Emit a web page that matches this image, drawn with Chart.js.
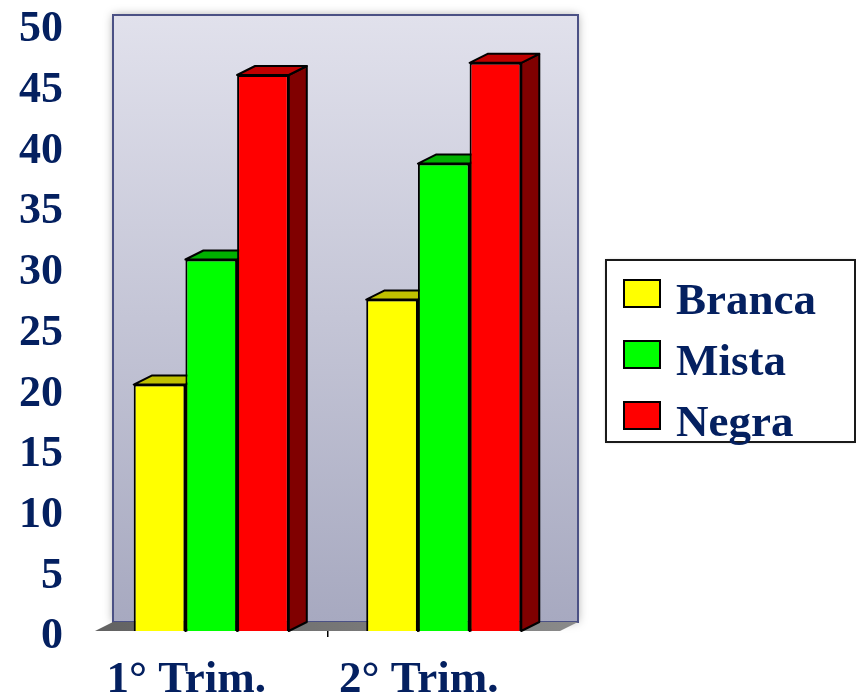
<!DOCTYPE html>
<html>
<head>
<meta charset="utf-8">
<script src="https://cdn.jsdelivr.net/npm/chart.js@4"></script>
<style>
html,body{margin:0;padding:0;background:#fff;}
#c{display:block;}
</style>
</head>
<body>
<canvas id="c" width="856" height="697"></canvas>
<script>
const categories = ['1\u00B0 Trim.', '2\u00B0 Trim.'];
const seriesNames = ['Branca', 'Mista', 'Negra'];
const branca = [20.3, 27.3];
const mista = [30.6, 38.5];
const negra = [45.8, 46.8];
const yTicks = { min: 0, max: 50, step: 5 };

const frontColors = ['#FFFF00', '#00FF00', '#FF0000'];
const topColors = ['#C0C000', '#00B000', '#C00000'];
const sideColors = ['#808000', '#008000', '#800000'];
const TXT = '#042060';
const FONT = "'Liberation Serif', 'Times New Roman', serif";
const DX = 18, DY = -9;

const threeD = {
  id: 'threeD',
  beforeDatasetsDraw(chart) {
    const ctx = chart.ctx, a = chart.chartArea;
    ctx.save();
    const wl = a.left + DX, wt = a.top + DY, wr = a.right + DX, wb = a.bottom + DY;
    ctx.shadowColor = 'rgba(0,0,0,0.35)';
    ctx.shadowBlur = 9;
    const g = ctx.createLinearGradient(0, wt, 0, wb);
    g.addColorStop(0, '#E1E1EC');
    g.addColorStop(1, '#A7A9C0');
    ctx.fillStyle = g;
    ctx.fillRect(wl, wt, wr - wl, wb - wt);
    ctx.shadowColor = 'transparent';
    ctx.shadowBlur = 0;
    ctx.strokeStyle = '#4B5185';
    ctx.lineWidth = 2;
    ctx.strokeRect(wl, wt, wr - wl, wb - wt);
    const fg = ctx.createLinearGradient(a.left, 0, a.right + DX, 0);
    fg.addColorStop(0, '#626262');
    fg.addColorStop(1, '#8A8A8A');
    ctx.fillStyle = fg;
    ctx.beginPath();
    ctx.moveTo(a.left, a.bottom);
    ctx.lineTo(a.right, a.bottom);
    ctx.lineTo(a.right + DX, a.bottom + DY);
    ctx.lineTo(a.left + DX, a.bottom + DY);
    ctx.closePath();
    ctx.fill();
    ctx.lineWidth = 2;
    ctx.strokeStyle = '#000';
    ctx.lineJoin = 'round';
    const n = chart.data.labels.length;
    for (let j = 0; j < n; j++) {
      chart.data.datasets.forEach((ds, i) => {
        const el = chart.getDatasetMeta(i).data[j];
        const l = el.x - el.width / 2, r = el.x + el.width / 2, t = el.y, b = el.base;
        ctx.fillStyle = sideColors[i];
        ctx.beginPath();
        ctx.moveTo(r, t); ctx.lineTo(r + DX, t + DY); ctx.lineTo(r + DX, b + DY); ctx.lineTo(r, b);
        ctx.closePath(); ctx.fill(); ctx.stroke();
        ctx.fillStyle = topColors[i];
        ctx.beginPath();
        ctx.moveTo(l, t); ctx.lineTo(r, t); ctx.lineTo(r + DX, t + DY); ctx.lineTo(l + DX, t + DY);
        ctx.closePath(); ctx.fill(); ctx.stroke();
      });
    }
    ctx.restore();
  },
  afterDraw(chart) {
    const ctx = chart.ctx;
    ctx.save();
    const bx = 606, by = 260, bw = 249, bh = 182;
    ctx.shadowColor = 'rgba(0,0,0,0.3)';
    ctx.shadowBlur = 3;
    ctx.fillStyle = '#fff';
    ctx.fillRect(bx, by, bw, bh);
    ctx.shadowColor = 'transparent';
    ctx.strokeStyle = '#1A1A1A';
    ctx.lineWidth = 2;
    ctx.strokeRect(bx, by, bw, bh);
    ctx.font = 'bold 45px ' + FONT;
    ctx.textBaseline = 'alphabetic';
    ctx.textAlign = 'left';
    chart.data.datasets.forEach((ds, i) => {
      const sy = 280 + i * 61;
      ctx.fillStyle = ds.backgroundColor;
      ctx.fillRect(624, sy, 36, 27);
      ctx.lineWidth = 2;
      ctx.strokeStyle = '#000';
      ctx.strokeRect(624, sy, 36, 27);
      ctx.fillStyle = TXT;
      ctx.fillText(ds.label, 676, sy + 34);
    });
    ctx.restore();
  }
};

const datasets = [branca, mista, negra].map((vals, i) => ({
  label: seriesNames[i],
  data: vals,
  backgroundColor: frontColors[i],
  borderColor: '#000',
  borderWidth: 2,
  categoryPercentage: 0.667,
  barPercentage: 1.0
}));

new Chart(document.getElementById('c'), {
  type: 'bar',
  data: { labels: categories, datasets },
  options: {
    responsive: false,
    animation: false,
    devicePixelRatio: 1,
    layout: { padding: { left: 0, right: 296, top: 24, bottom: 0 } },
    plugins: { legend: { display: false }, tooltip: { enabled: false } },
    scales: {
      x: {
        grid: {
          display: true,
          drawOnChartArea: false,
          drawTicks: true,
          tickLength: 6,
          lineWidth: 1.5,
          color: (c) => c.index === 1 ? '#000' : 'rgba(0,0,0,0)'
        },
        border: { display: false },
        ticks: {
          color: TXT,
          font: { family: FONT, size: 45, weight: 'bold', lineHeight: 1 },
          padding: 21,
          labelOffset: -25,
          maxRotation: 0,
          autoSkip: false
        },
        afterFit(s) { s.height = 66; s.paddingLeft = 0; s.paddingRight = 0; }
      },
      y: {
        min: yTicks.min,
        max: yTicks.max,
        grid: { display: false, drawTicks: false },
        border: { display: false },
        ticks: {
          stepSize: yTicks.step,
          color: TXT,
          font: { family: FONT, size: 44, weight: 'bold', lineHeight: 1 },
          padding: 32,
          labelOffset: 6
        },
        afterFit(s) { s.width = 95; s.paddingTop = 0; s.paddingBottom = 0; }
      }
    }
  },
  plugins: [threeD]
});
</script>
</body>
</html>
